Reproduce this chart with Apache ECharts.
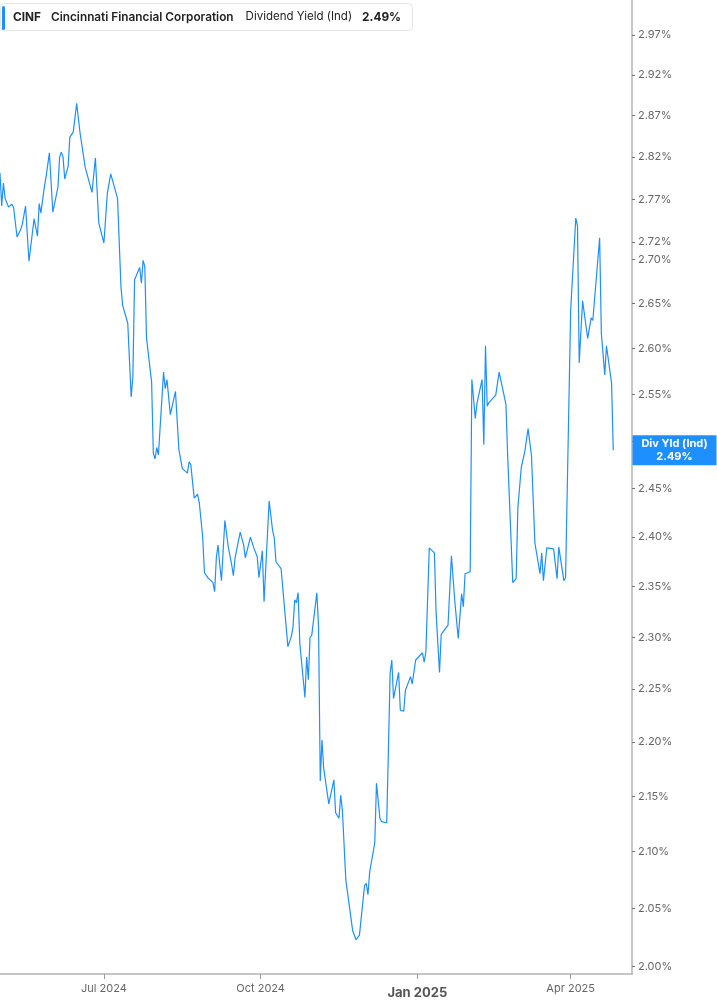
<!DOCTYPE html>
<html>
<head>
<meta charset="utf-8">
<script src="https://cdn.jsdelivr.net/npm/echarts@6/dist/echarts.min.js"></script>
<style>
  html, body { margin: 0; padding: 0; background: #fff; }
  #chart { width: 717px; height: 1005px; }
</style>
</head>
<body>
<div id="chart"></div>
<script>
// CINF dividend yield (ind), values in %
const dates = [
  '2024-05-01','2024-05-02','2024-05-03','2024-05-04','2024-05-06','2024-05-08','2024-05-09','2024-05-11',
  '2024-05-13','2024-05-14','2024-05-16','2024-05-18','2024-05-21','2024-05-23','2024-05-24','2024-05-25',
  '2024-05-27','2024-05-28','2024-05-30','2024-06-01','2024-06-04','2024-06-05','2024-06-06','2024-06-07',
  '2024-06-08','2024-06-10','2024-06-11','2024-06-13','2024-06-14','2024-06-15','2024-06-17','2024-06-18',
  '2024-06-20','2024-06-21','2024-06-24','2024-06-26','2024-06-28','2024-07-01','2024-07-03','2024-07-05',
  '2024-07-09','2024-07-11','2024-07-12','2024-07-15','2024-07-17','2024-07-18','2024-07-19','2024-07-22',
  '2024-07-23','2024-07-24','2024-07-25','2024-07-26','2024-07-29','2024-07-30','2024-07-31','2024-08-01',
  '2024-08-02','2024-08-05','2024-08-06','2024-08-07','2024-08-09','2024-08-12','2024-08-14','2024-08-15',
  '2024-08-16','2024-08-19','2024-08-20','2024-08-21','2024-08-23','2024-08-25','2024-08-26','2024-08-28',
  '2024-08-29','2024-08-31','2024-09-03','2024-09-04','2024-09-05','2024-09-06','2024-09-07','2024-09-08',
  '2024-09-09','2024-09-10','2024-09-12','2024-09-14','2024-09-15','2024-09-16','2024-09-17','2024-09-19',
  '2024-09-21','2024-09-22','2024-09-23','2024-09-25','2024-09-27','2024-09-29','2024-09-30','2024-10-02',
  '2024-10-03','2024-10-06','2024-10-08','2024-10-09','2024-10-10','2024-10-13','2024-10-14','2024-10-17',
  '2024-10-19','2024-10-20','2024-10-21','2024-10-22','2024-10-23','2024-10-24','2024-10-27','2024-10-28',
  '2024-10-29','2024-10-30','2024-10-31','2024-11-03','2024-11-04','2024-11-05','2024-11-06','2024-11-07',
  '2024-11-10','2024-11-11','2024-11-13','2024-11-14','2024-11-16','2024-11-17','2024-11-18','2024-11-20',
  '2024-11-24','2024-11-26','2024-11-28','2024-12-01','2024-12-02','2024-12-03','2024-12-04','2024-12-07',
  '2024-12-08','2024-12-10','2024-12-11','2024-12-14','2024-12-15','2024-12-16','2024-12-17','2024-12-18',
  '2024-12-21','2024-12-22','2024-12-24','2024-12-25','2024-12-28','2024-12-29','2024-12-31','2025-01-04',
  '2025-01-05','2025-01-06','2025-01-08','2025-01-11','2025-01-12','2025-01-14','2025-01-15','2025-01-19',
  '2025-01-21','2025-01-23','2025-01-25','2025-01-27','2025-01-28','2025-01-29','2025-02-01','2025-02-02',
  '2025-02-04','2025-02-05','2025-02-08','2025-02-09','2025-02-10','2025-02-11','2025-02-12','2025-02-16',
  '2025-02-18','2025-02-22','2025-02-23','2025-02-24','2025-02-26','2025-02-28','2025-03-01','2025-03-02',
  '2025-03-03','2025-03-05','2025-03-07','2025-03-09','2025-03-10','2025-03-11','2025-03-14','2025-03-15',
  '2025-03-16','2025-03-18','2025-03-22','2025-03-24','2025-03-25','2025-03-28','2025-03-29','2025-03-30',
  '2025-04-01','2025-04-04','2025-04-05','2025-04-06','2025-04-08','2025-04-11','2025-04-12','2025-04-13',
  '2025-04-14','2025-04-18','2025-04-19','2025-04-21','2025-04-22','2025-04-25','2025-04-26'
];

const yields = [
  2.801,2.762,2.789,2.771,2.761,2.764,2.760,2.726,
  2.734,2.740,2.762,2.698,2.747,2.727,2.765,2.754,
  2.784,2.796,2.825,2.755,2.784,2.820,2.826,2.820,
  2.794,2.809,2.844,2.850,2.850,2.885,2.849,2.849,
  2.808,2.810,2.778,2.819,2.742,2.719,2.777,2.800,
  2.771,2.669,2.648,2.628,2.547,2.569,2.677,2.691,
  2.673,2.699,2.692,2.612,2.563,2.487,2.481,2.493,
  2.485,2.574,2.556,2.566,2.528,2.553,2.491,2.493,
  2.471,2.466,2.478,2.475,2.440,2.444,2.435,2.400,
  2.364,2.359,2.354,2.345,2.379,2.392,2.372,2.356,
  2.357,2.417,2.390,2.372,2.361,2.379,2.377,2.405,
  2.392,2.379,2.379,2.400,2.389,2.380,2.359,2.386,
  2.335,2.437,2.407,2.399,2.375,2.368,2.367,2.291,
  2.301,2.310,2.337,2.334,2.344,2.294,2.242,2.281,
  2.259,2.300,2.302,2.344,2.310,2.164,2.202,2.176,
  2.143,2.144,2.165,2.135,2.130,2.151,2.137,2.075,
  2.031,2.023,2.027,2.070,2.072,2.062,2.082,2.108,
  2.162,2.130,2.127,2.126,2.192,2.265,2.278,2.241,
  2.266,2.230,2.229,2.249,2.262,2.255,2.278,2.285,
  2.276,2.286,2.389,2.384,2.324,2.266,2.303,2.312,
  2.381,2.335,2.299,2.343,2.330,2.363,2.365,2.566,
  2.524,2.540,2.566,2.496,2.603,2.537,2.541,2.549,
  2.574,2.539,2.485,2.483,2.354,2.358,2.430,2.431,
  2.472,2.488,2.513,2.484,2.485,2.394,2.363,2.384,
  2.356,2.389,2.388,2.358,2.390,2.356,2.359,2.358,
  2.643,2.748,2.739,2.584,2.653,2.611,2.610,2.634,
  2.631,2.725,2.617,2.571,2.603,2.562,2.490
];

const yTicks = [2.00, 2.05, 2.10, 2.15, 2.20, 2.25, 2.30, 2.35, 2.40, 2.45, 2.50,
  2.55, 2.60, 2.65, 2.70, 2.72, 2.77, 2.82, 2.87, 2.92, 2.97];
const monthNames = ['Jan','Feb','Mar','Apr','May','Jun','Jul','Aug','Sep','Oct','Nov','Dec'];
const quarter = 100 * 24 * 3600 * 1000;

const xMin = '2024-05-01';
const xMax = '2025-05-07';
const lastYield = 2.49;
const blue = '#1e8fff';
const font = 'Inter, "Noto Sans", sans-serif';

const chart = echarts.init(document.getElementById('chart'), null, { renderer: 'canvas' });

chart.setOption({
  animation: false,
  backgroundColor: '#fff',
  textStyle: { fontFamily: font },
  title: {
    left: 0,
    top: 3,
    padding: [8, 12, 8, 13],
    backgroundColor: '#fff',
    borderColor: '#e4e4e4',
    borderWidth: 1,
    borderRadius: 4,
    text: '{a|CINF}{b|Cincinnati Financial Corporation}{c|Dividend Yield (Ind)}{d|2.49%}',
    textStyle: {
      rich: {
        a: { fontFamily: font, fontSize: 11.8, fontWeight: 700, color: '#222', padding: [0, 10, 0, 0] },
        b: { fontFamily: font, fontSize: 11.8, fontWeight: 600, color: '#222', padding: [0, 12, 0, 0] },
        c: { fontFamily: font, fontSize: 11.5, fontWeight: 400, color: '#222', padding: [0, 10, 0, 0] },
        d: { fontFamily: font, fontSize: 11.8, fontWeight: 700, color: '#222' }
      }
    }
  },
  graphic: [{
    type: 'rect',
    left: 2,
    top: 6,
    shape: { width: 3, height: 24, r: 1.5 },
    style: { fill: blue },
    z: 100
  }],
  grid: { left: 0, right: 85, top: 0, bottom: 31, outerBoundsMode: 'none' },
  xAxis: {
    type: 'time',
    min: xMin,
    max: xMax,
    minInterval: quarter,
    maxInterval: quarter,
    splitLine: { show: false },
    axisLine: { show: true, lineStyle: { color: '#b4b4b4', width: 1.5 } },
    axisTick: { show: true, length: 5, lineStyle: { color: '#999' } },
    axisLabel: {
      margin: 9,
      color: '#666',
      fontSize: 11,
      fontFamily: font,
      showMinLabel: false,
      showMaxLabel: false,
      formatter: function (val) {
        const d = new Date(val);
        const m = d.getMonth();
        const s = monthNames[m] + ' ' + d.getFullYear();
        return m === 0 ? '{y|' + s + '}' : s;
      },
      rich: {
        y: { fontSize: 13, fontWeight: 700, color: '#555', fontFamily: font, padding: [4, 0, 0, 0] }
      }
    }
  },
  yAxis: {
    type: 'log',
    logBase: 10,
    position: 'right',
    min: 1.9938,
    max: 3.0144,
    splitLine: { show: false },
    axisLine: { show: true, lineStyle: { color: '#b4b4b4', width: 1.5 } },
    axisTick: { show: true, length: 3, lineStyle: { color: '#777' }, customValues: yTicks },
    axisLabel: {
      customValues: yTicks,
      margin: 6,
      color: '#666',
      fontSize: 11,
      fontFamily: font,
      formatter: function (val) { return val.toFixed(2) + '%'; }
    }
  },
  series: [{
    type: 'line',
    name: 'Div Yld (Ind)',
    data: dates.map((d, i) => [d, yields[i]]),
    showSymbol: false,
    symbol: 'none',
    lineStyle: { color: blue, width: 1.2 },
    itemStyle: { color: blue },
    markPoint: {
      silent: true,
      symbol: 'rect',
      symbolSize: [84, 30],
      symbolOffset: [42.5, 0],
      itemStyle: { color: blue },
      label: {
        show: true,
        position: 'inside',
        color: '#fff',
        fontFamily: font,
        fontSize: 11,
        fontWeight: 700,
        lineHeight: 13,
        align: 'center',
        formatter: function () { return 'Div Yld (Ind)\n' + lastYield.toFixed(2) + '%'; }
      },
      data: [{ coord: [xMax, lastYield] }]
    }
  }]
});
</script>
</body>
</html>
